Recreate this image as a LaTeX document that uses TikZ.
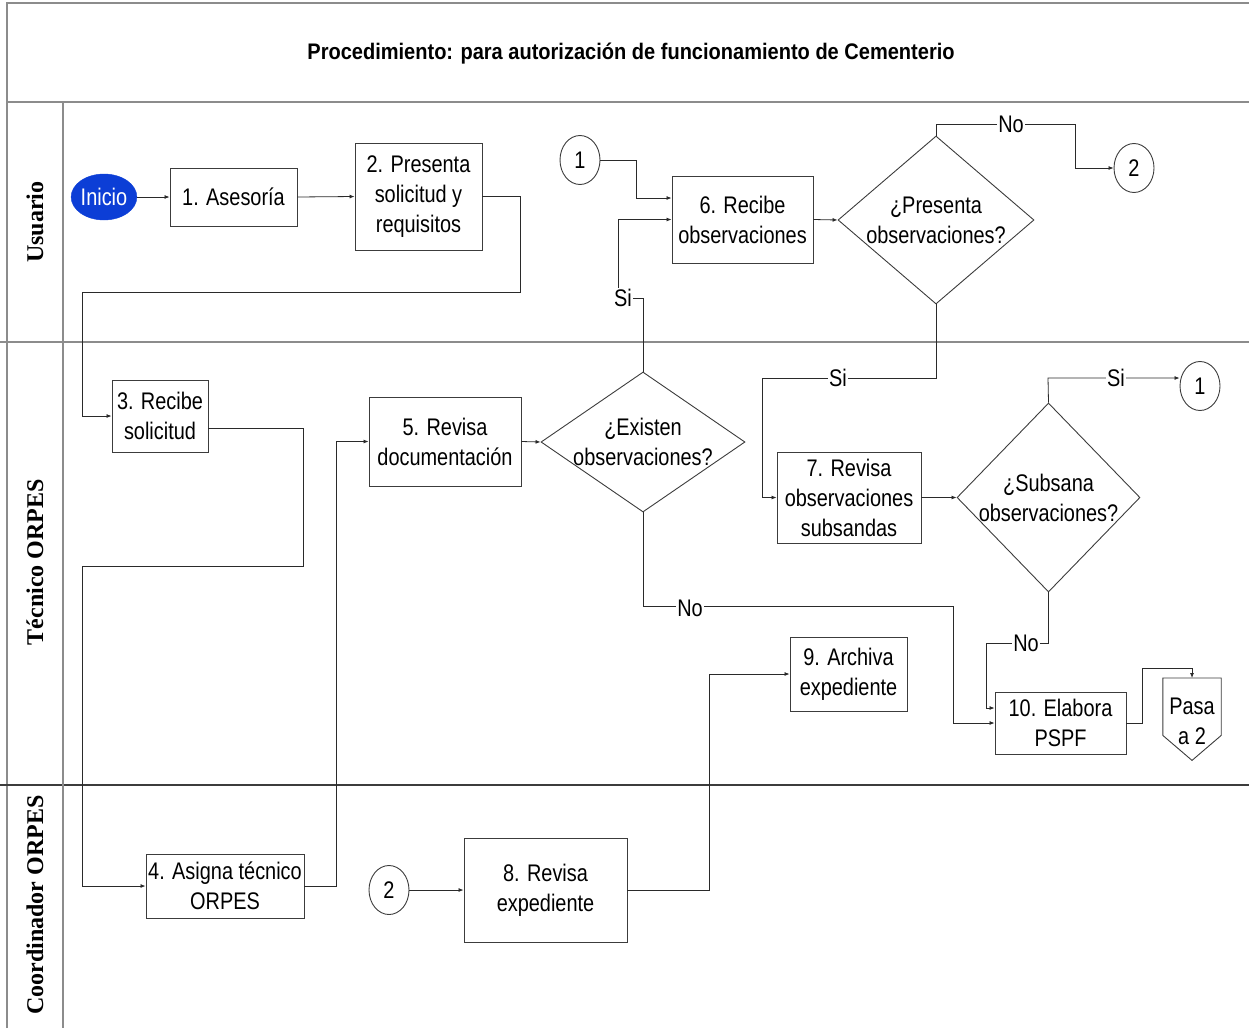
\documentclass[tikz,border=0pt]{standalone}
\usepackage{fontspec}
\usetikzlibrary{shapes.geometric,arrows.meta,calc}
\setmainfont{Liberation Sans}
\newfontfamily\nar{Liberation Sans}[FakeStretch=0.83]
\newfontfamily\tnar{Liberation Sans}[FakeStretch=0.89]
\newfontfamily\lanefont{Liberation Serif}
\definecolor{boxc}{HTML}{3C3C3C}
\definecolor{lanec}{HTML}{8C8C8C}
\definecolor{linec}{HTML}{2A2A2A}
\definecolor{inib}{RGB}{12,62,214}
\tikzset{
  boxtxt/.style={font=\nar\fontsize{24}{30}\selectfont, align=center},
  stepbox/.style={draw=boxc, line width=0.9pt, rectangle, inner sep=0pt, boxtxt},
  decis/.style={draw=boxc, line width=0.9pt, diamond, inner sep=0pt},
  conn/.style={draw=boxc, line width=0.9pt, ellipse, inner sep=0pt, minimum width=40pt, minimum height=49pt, boxtxt},
  arr/.style={draw=linec, line width=0.8pt, -{Latex[length=5pt,width=4pt]}},
  lbl/.style={fill=white, inner sep=1pt, boxtxt},
  lane/.style={font=\lanefont\bfseries\fontsize{24}{28}\selectfont, rotate=90},
  sep/.style={draw=lanec, line width=1.2pt}
}
\begin{document}
\begin{tikzpicture}[x=1pt,y=-1pt]
\useasboundingbox (0,0) rectangle (1249,1028);
% frame and lanes
\draw[sep] (7,1028) -- (7,3) -- (1249,3);
\draw[sep] (7,102) -- (1249,102);
\draw[sep] (0,342) -- (1249,342);
\draw[draw=boxc, line width=1.4pt] (0,785) -- (1249,785);
\draw[sep] (63,102) -- (63,1028);
\node[font=\tnar\bfseries\fontsize{22.5}{26}\selectfont] (title) at (631,54) {Procedimiento: para autorización de funcionamiento de Cementerio};
\node[lane] (l1) at (35,222) {Usuario};
\node[lane] (l2) at (35,562) {Técnico ORPES};
\node[lane] (l3) at (35,905) {Coordinador ORPES};
% nodes
\node[ellipse, fill=inib, draw=inib, inner sep=0pt, minimum width=62pt, minimum height=46pt, boxtxt, text=white] (ini) at (104,197) {Inicio};
\node[stepbox, minimum width=127pt, minimum height=58pt] (b1) at (233.5,197) {1. Asesoría};
\node[stepbox, minimum width=127pt, minimum height=107pt] (b2) at (418.5,196.5) {2. Presenta\\solicitud y\\requisitos};
\node[stepbox, minimum width=96pt, minimum height=72pt] (b3) at (160,416) {3. Recibe\\solicitud};
\node[stepbox, minimum width=158pt, minimum height=64pt] (b4) at (225,886) {4. Asigna técnico\\ORPES};
\node[stepbox, minimum width=152pt, minimum height=89pt] (b5) at (445,441.5) {5. Revisa\\documentación};
\node[decis, minimum width=204pt, minimum height=140pt] (d1) at (643,442) {};
\node[boxtxt] (d1t) at (643,442) {¿Existen\\observaciones?};
\node[stepbox, minimum width=141pt, minimum height=87pt] (b6) at (742.5,219.5) {6. Recibe\\observaciones};
\node[conn] (c1a) at (580,160) {1};
\node[decis, minimum width=196pt, minimum height=168pt] (d2) at (936,220) {};
\node[boxtxt] (d2t) at (936,220) {¿Presenta\\observaciones?};
\node[conn] (c2a) at (1134,168) {2};
\node[stepbox, minimum width=144pt, minimum height=91pt] (b7) at (849,497.5) {7. Revisa\\observaciones\\subsandas};
\node[decis, minimum width=183pt, minimum height=189pt] (d3) at (1048.5,497.5) {};
\node[boxtxt] (d3t) at (1048.5,497.5) {¿Subsana\\observaciones?};
\node[conn] (c1b) at (1200,386) {1};
\node[stepbox, minimum width=131pt, minimum height=62pt] (b10) at (1060.5,723) {10. Elabora\\PSPF};
\node[minimum width=58pt, minimum height=57pt, inner sep=0pt, anchor=north] (pasa) at (1192,678) {};
\draw[draw=boxc, line width=0.9pt] (pasa.north west) -- (pasa.north east) -- (pasa.south east) -- ($(pasa.south)+(0,25)$) -- (pasa.south west) -- cycle;
\node[boxtxt] (pasat) at (1192,721) {Pasa\\a 2};
\node[stepbox, minimum width=117pt, minimum height=74pt] (b9) at (848.5,674) {9. Archiva\\expediente};
\node[stepbox, minimum width=163pt, minimum height=104pt] (b8) at (545.5,890) {8. Revisa\\expediente};
\node[conn] (c2b) at (389,890) {2};
% helper coordinates
\coordinate (k1) at (1048,378);
% connectors
\draw[arr] (ini.east) -- (b1.west);
\draw[arr] (b1.east) -- (b2.west);
\draw[arr] (b2.east) -- (520,196.5) -- (520,292) -- (82,292) |- (b3.west);
\draw[arr] ([yshift=-12pt]b3.east) -- (303,428) -- (303,566) -- (82,566) |- (b4.west);
\draw[arr] (b4.east) -- (336,886) |- (b5.west);
\draw[arr] (b5.east) -- (d1.west);
\draw[arr] (d1.north) -- (643,298) -- (618,298) |- (b6.west);
\node[lbl] (s1) at (623,298) {Si};
\draw[arr] (c1a.east) -- (636,160) |- ([yshift=21.5pt]b6.west);
\draw[arr] (b6.east) -- (d2.west);
\draw[arr] (d2.north) -- (936,124) -- (1075,124) |- (c2a.west);
\node[lbl] (n1) at (1011,124) {No};
\draw[arr] (d2.south) -- (936,378) -- (762,378) |- (b7.west);
\node[lbl] (s2) at (838,378) {Si};
\draw[arr] (b7.east) -- (d3.west);
\draw[arr] (d3.north) -- (k1) -- (c1b.west |- k1);
\node[lbl] (s3) at (1116,378) {Si};
\draw[arr] (d3.south) -- (1048.5,643) -- (986,643) |- ([yshift=15pt]b10.west);
\node[lbl] (n2) at (1026,643) {No};
\draw[arr] (d1.south) -- (643,606) -- (953,606) |- (b10.west);
\node[lbl] (n3) at (690,608) {No};
\draw[arr] (b10.east) -- (1142,723) -- (1142,668) -| (pasa.north);
\draw[arr] (c2b.east) -- (b8.west);
\draw[arr] (b8.east) -- (709,890) |- (b9.west);
\end{tikzpicture}
\end{document}
